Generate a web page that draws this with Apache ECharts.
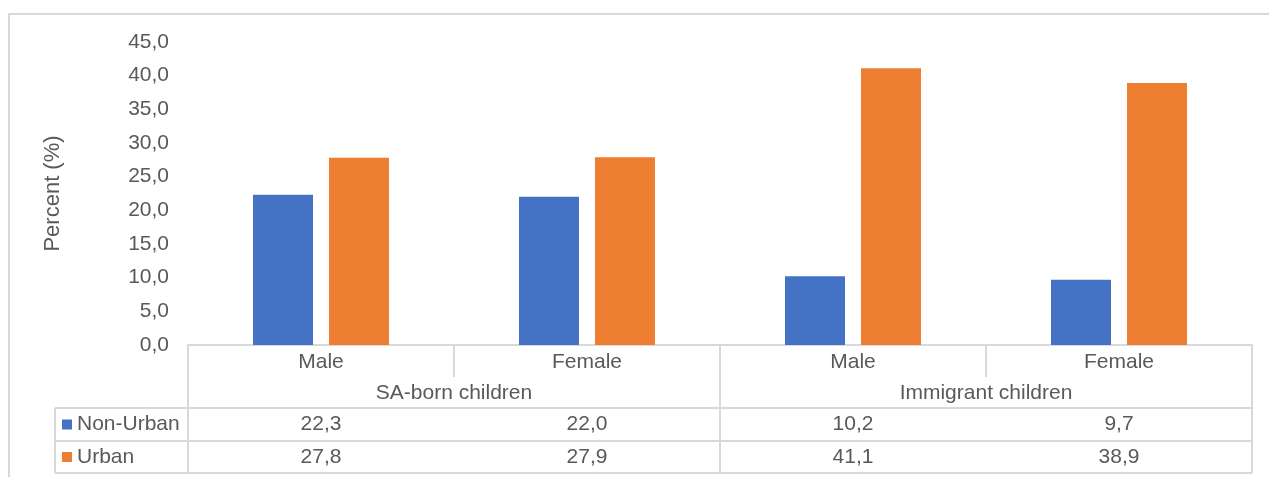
<!DOCTYPE html>
<html>
<head>
<meta charset="utf-8">
<script src="https://cdn.jsdelivr.net/npm/echarts@6/dist/echarts.min.js"></script>
<style>
  html, body { margin: 0; padding: 0; background: #ffffff; }
  #chart { width: 1269px; height: 477px; }
</style>
</head>
<body>
<div id="chart"></div>
<script>
// Data
const subCategories = ['Male', 'Female', 'Male', 'Female'];
const groups = ['SA-born children', 'Immigrant children'];
const seriesNames = ['Non-Urban', 'Urban'];
const nonUrban = [22.3, 22.0, 10.2, 9.7];
const urban = [27.8, 27.9, 41.1, 38.9];
const yMin = 0, yMax = 45, yStep = 5;

const colors = ['#4472C4', '#ED7D31'];
const textColor = '#595959';
const lineColor = '#d9d9d9';
const font = '"Liberation Sans", Arial, sans-serif';
const fontSize = 21;

const fmt = v => v.toFixed(1).replace('.', ',');

const chart = echarts.init(document.getElementById('chart'), null, { renderer: 'canvas' });

chart.setOption({
  animation: false,
  backgroundColor: '#ffffff',
  textStyle: { fontFamily: font },
  grid: { left: 188, right: 17, top: 42, bottom: 132, containLabel: false },
  xAxis: {
    type: 'category',
    data: subCategories,
    axisLine: { show: true, lineStyle: { color: lineColor, width: 2 } },
    axisTick: { show: false },
    axisLabel: { show: false },
    splitLine: { show: false }
  },
  yAxis: {
    type: 'value',
    min: yMin, max: yMax, interval: yStep,
    name: 'Percent (%)',
    nameLocation: 'middle',
    nameRotate: 90,
    nameGap: 124,
    nameTextStyle: { color: textColor, fontSize: 22, fontFamily: font },
    axisLine: { show: false },
    axisTick: { show: false },
    splitLine: { show: false },
    axisLabel: {
      color: textColor, fontSize: fontSize, fontFamily: font, margin: 19,
      formatter: v => fmt(v)
    }
  },
  series: [
    { name: seriesNames[0], type: 'bar', data: nonUrban, barWidth: 60, barGap: '26.7%',
      itemStyle: { color: colors[0] } },
    { name: seriesNames[1], type: 'bar', data: urban, barWidth: 60, barGap: '26.7%',
      itemStyle: { color: colors[1] } }
  ]
});

// Data table under the plot, laid out from the axis scales
function buildTable() {
  const centers = subCategories.map((_, i) => chart.convertToPixel({ xAxisIndex: 0 }, i));
  const colW = centers[1] - centers[0];
  const left = centers[0] - colW / 2;
  const right = centers[centers.length - 1] + colW / 2;
  const y0 = chart.convertToPixel({ yAxisIndex: 0 }, 0);
  const rowSub = y0 + 32;      // bottom of sub-category row
  const rowGrp = y0 + 63;      // bottom of group row
  const rowA = y0 + 96;        // bottom of first series row
  const rowB = y0 + 128;       // bottom of second series row
  const legLeft = 55;

  const els = [];
  const line = (x1, y1, x2, y2) => els.push({
    type: 'line', shape: { x1, y1, x2, y2 },
    style: { stroke: lineColor, lineWidth: 2 }, silent: true
  });
  const text = (x, y, s, align) => els.push({
    type: 'text', x, y,
    style: { text: s, fill: textColor, font: fontSize + 'px ' + font,
             textAlign: align || 'center', textVerticalAlign: 'middle' },
    silent: true
  });

  // outer frame
  els.push({ type: 'rect', shape: { x: 9, y: 14, width: 1400, height: 600 },
             style: { fill: 'none', stroke: lineColor, lineWidth: 2 }, silent: true });

  // horizontal rules
  line(legLeft, rowGrp, right, rowGrp);
  line(legLeft, rowA, right, rowA);
  line(legLeft, rowB, right, rowB);
  // vertical rules
  line(left, y0, left, rowB);
  line(right, y0, right, rowB);
  line(legLeft, rowGrp, legLeft, rowB);
  const nPerGroup = subCategories.length / groups.length;
  for (let i = 1; i < subCategories.length; i++) {
    const x = left + colW * i;
    if (i % nPerGroup === 0) line(x, y0, x, rowB);
    else line(x, y0, x, rowSub);
  }

  // sub-category labels
  subCategories.forEach((s, i) => text(centers[i], (y0 + rowSub) / 2 + 1, s));
  // group labels
  groups.forEach((g, gi) => {
    const cx = left + colW * nPerGroup * (gi + 0.5);
    text(cx, (rowSub + rowGrp) / 2 + 1, g);
  });
  // series rows
  const rows = [[nonUrban, rowGrp, rowA], [urban, rowA, rowB]];
  rows.forEach(([vals, top, bot], si) => {
    const cy = (top + bot) / 2;
    els.push({ type: 'rect', shape: { x: legLeft + 7, y: cy - 5, width: 10, height: 10 },
               style: { fill: colors[si] }, silent: true });
    text(legLeft + 22, cy, seriesNames[si], 'left');
    vals.forEach((v, i) => text(centers[i], cy, fmt(v)));
  });

  chart.setOption({ graphic: { elements: els } });
}
buildTable();
</script>
</body>
</html>
